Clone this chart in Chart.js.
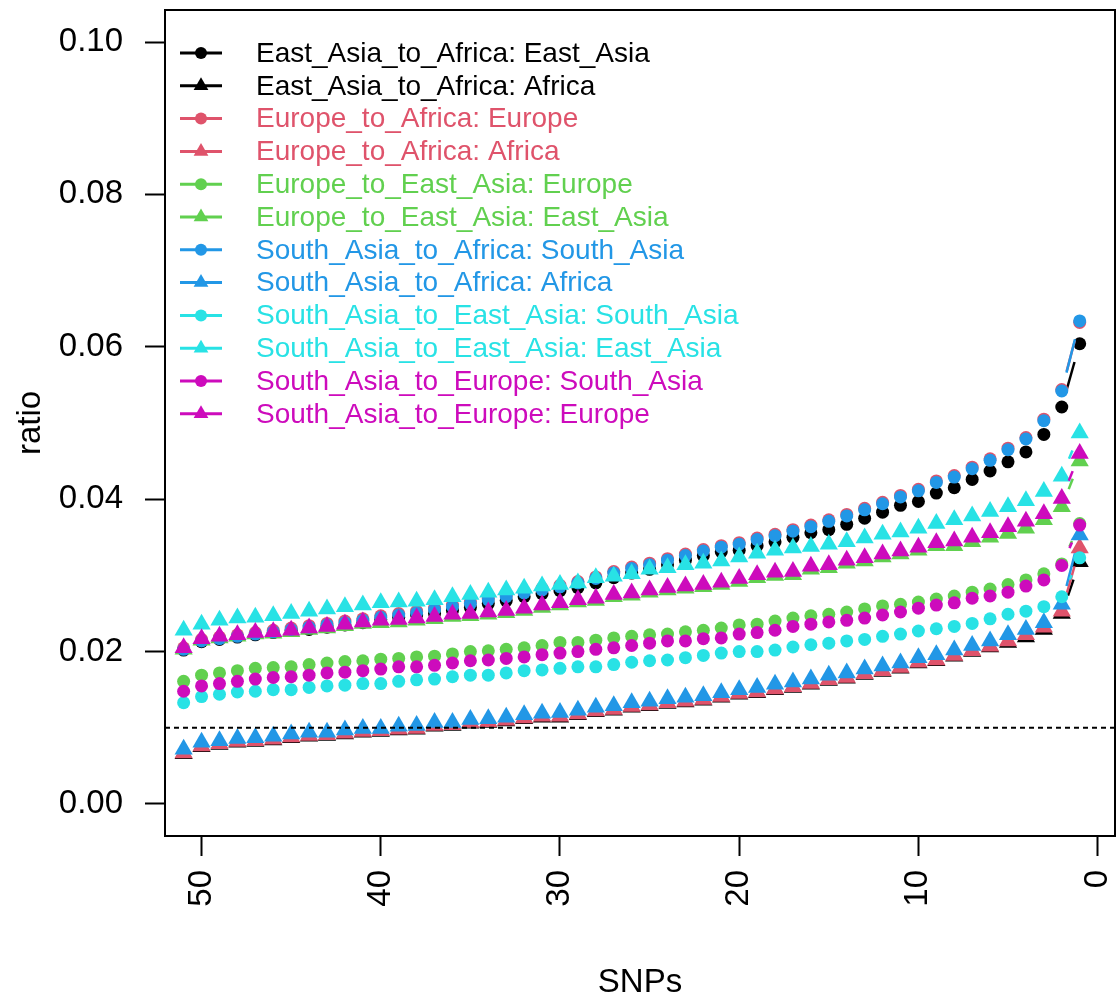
<!DOCTYPE html>
<html>
<head>
<meta charset="utf-8">
<script src="https://cdn.jsdelivr.net/npm/chart.js@4.4.1/dist/chart.umd.min.js"></script>
<style>
html,body{margin:0;padding:0;background:#fff;overflow:hidden;}
#wrap{width:1117px;height:1001px;}
canvas{display:block;}
</style>
</head>
<body>
<div id="wrap"><canvas id="c" width="1117" height="1001"></canvas></div>
<script>
// ---- data (x = number of SNPs, listed left-to-right as drawn: 51 ... 1) ----
const snps = [51,50,49,48,47,46,45,44,43,42,41,40,39,38,37,36,35,34,33,32,31,30,29,28,27,26,25,24,23,22,21,20,19,18,17,16,15,14,13,12,11,10,9,8,7,6,5,4,3,2,1];

const eaAf_EastAsia = [0.0202,0.0213,0.0216,0.0219,0.0222,0.0225,0.0228,0.0229,0.0232,0.0235,0.0238,
  0.0242,0.0245,0.0248,0.0250,0.0254,0.0258,0.0263,0.0267,0.0272,0.0276,
  0.0280,0.0284,0.0290,0.0297,0.0303,0.0308,0.0314,0.0320,0.0326,0.0331,
  0.0333,0.0339,0.0344,0.0350,0.0356,0.0360,0.0367,0.0375,0.0383,0.0392,
  0.0397,0.0408,0.0415,0.0426,0.0437,0.0449,0.0462,0.0485,0.0521,0.0604];
const eaAf_Africa = [0.0066,0.0075,0.0078,0.0081,0.0082,0.0084,0.0087,0.0089,0.0090,0.0092,0.0094,
  0.0095,0.0097,0.0098,0.0102,0.0103,0.0106,0.0107,0.0109,0.0112,0.0114,
  0.0114,0.0117,0.0121,0.0123,0.0127,0.0129,0.0132,0.0134,0.0136,0.0140,
  0.0144,0.0146,0.0150,0.0153,0.0157,0.0162,0.0165,0.0170,0.0174,0.0178,
  0.0185,0.0188,0.0194,0.0200,0.0206,0.0212,0.0219,0.0229,0.0250,0.0318];
const euAf_Europe = [0.0205,0.0216,0.0219,0.0222,0.0225,0.0228,0.0231,0.0234,0.0237,0.0240,0.0243,
  0.0247,0.0250,0.0253,0.0257,0.0261,0.0265,0.0270,0.0274,0.0279,0.0283,
  0.0287,0.0292,0.0298,0.0305,0.0311,0.0316,0.0322,0.0328,0.0334,0.0339,
  0.0343,0.0349,0.0354,0.0360,0.0366,0.0373,0.0380,0.0388,0.0396,0.0405,
  0.0413,0.0424,0.0431,0.0442,0.0453,0.0467,0.0481,0.0505,0.0544,0.0632];
const euAf_Africa = [0.0067,0.0076,0.0079,0.0082,0.0083,0.0085,0.0088,0.0090,0.0091,0.0093,0.0095,
  0.0096,0.0098,0.0099,0.0103,0.0104,0.0107,0.0108,0.0110,0.0113,0.0115,
  0.0115,0.0118,0.0122,0.0124,0.0128,0.0130,0.0133,0.0135,0.0137,0.0141,
  0.0145,0.0147,0.0151,0.0154,0.0158,0.0163,0.0166,0.0171,0.0175,0.0179,
  0.0186,0.0189,0.0195,0.0201,0.0207,0.0214,0.0222,0.0232,0.0253,0.0336];
const euEa_Europe = [0.0161,0.0169,0.0172,0.0175,0.0178,0.0179,0.0180,0.0183,0.0185,0.0187,0.0188,
  0.0190,0.0191,0.0193,0.0194,0.0197,0.0200,0.0201,0.0203,0.0205,0.0208,
  0.0212,0.0212,0.0215,0.0218,0.0220,0.0222,0.0223,0.0226,0.0228,0.0231,
  0.0235,0.0236,0.0240,0.0244,0.0247,0.0249,0.0252,0.0256,0.0260,0.0262,
  0.0265,0.0269,0.0273,0.0278,0.0282,0.0288,0.0294,0.0302,0.0315,0.0368];
const euEa_EastAsia = [0.0203,0.0215,0.0218,0.0220,0.0223,0.0224,0.0226,0.0229,0.0231,0.0234,0.0237,
  0.0238,0.0239,0.0241,0.0243,0.0246,0.0247,0.0249,0.0251,0.0254,0.0258,
  0.0261,0.0265,0.0267,0.0272,0.0274,0.0278,0.0281,0.0283,0.0285,0.0288,
  0.0292,0.0297,0.0300,0.0301,0.0308,0.0310,0.0316,0.0319,0.0324,0.0328,
  0.0333,0.0339,0.0339,0.0344,0.0350,0.0355,0.0362,0.0373,0.0390,0.0450];
const saAf_SouthAsia = [0.0203,0.0214,0.0217,0.0220,0.0223,0.0226,0.0229,0.0232,0.0235,0.0238,0.0241,
  0.0245,0.0248,0.0251,0.0255,0.0259,0.0263,0.0268,0.0272,0.0277,0.0281,
  0.0285,0.0290,0.0296,0.0303,0.0309,0.0314,0.0320,0.0326,0.0332,0.0337,
  0.0341,0.0347,0.0352,0.0358,0.0364,0.0371,0.0378,0.0386,0.0394,0.0403,
  0.0411,0.0422,0.0429,0.0440,0.0451,0.0465,0.0479,0.0503,0.0542,0.0634];
const saAf_Africa = [0.0072,0.0081,0.0083,0.0086,0.0087,0.0089,0.0092,0.0094,0.0094,0.0097,0.0099,
  0.0099,0.0102,0.0103,0.0107,0.0107,0.0111,0.0112,0.0114,0.0117,0.0119,
  0.0120,0.0123,0.0127,0.0129,0.0133,0.0135,0.0138,0.0140,0.0142,0.0146,
  0.0150,0.0153,0.0157,0.0160,0.0164,0.0169,0.0172,0.0177,0.0181,0.0185,
  0.0192,0.0196,0.0202,0.0208,0.0214,0.0222,0.0229,0.0238,0.0262,0.0353];
const saEa_SouthAsia = [0.0133,0.0141,0.0144,0.0147,0.0148,0.0150,0.0150,0.0153,0.0155,0.0156,0.0158,
  0.0158,0.0161,0.0163,0.0164,0.0167,0.0169,0.0169,0.0172,0.0175,0.0176,
  0.0178,0.0180,0.0180,0.0183,0.0186,0.0188,0.0189,0.0192,0.0195,0.0198,
  0.0200,0.0200,0.0202,0.0206,0.0209,0.0211,0.0214,0.0216,0.0220,0.0223,
  0.0227,0.0230,0.0233,0.0237,0.0243,0.0249,0.0253,0.0259,0.0272,0.0323];
const saEa_EastAsia = [0.0228,0.0236,0.0241,0.0244,0.0245,0.0247,0.0250,0.0253,0.0256,0.0259,0.0261,
  0.0264,0.0265,0.0266,0.0268,0.0272,0.0275,0.0278,0.0281,0.0283,0.0286,
  0.0288,0.0290,0.0297,0.0299,0.0302,0.0308,0.0310,0.0314,0.0316,0.0319,
  0.0324,0.0329,0.0333,0.0336,0.0338,0.0341,0.0344,0.0349,0.0354,0.0357,
  0.0362,0.0368,0.0373,0.0378,0.0384,0.0390,0.0398,0.0410,0.0430,0.0487];
const saEu_SouthAsia = [0.0148,0.0155,0.0158,0.0161,0.0164,0.0166,0.0167,0.0169,0.0172,0.0173,0.0175,
  0.0177,0.0180,0.0180,0.0182,0.0185,0.0188,0.0189,0.0191,0.0193,0.0196,
  0.0198,0.0200,0.0203,0.0205,0.0208,0.0211,0.0214,0.0214,0.0217,0.0218,
  0.0223,0.0225,0.0228,0.0233,0.0236,0.0239,0.0241,0.0244,0.0248,0.0252,
  0.0257,0.0261,0.0264,0.0270,0.0273,0.0278,0.0286,0.0294,0.0313,0.0366];
const saEu_Europe = [0.0205,0.0217,0.0220,0.0222,0.0225,0.0226,0.0228,0.0231,0.0233,0.0236,0.0239,
  0.0241,0.0242,0.0244,0.0246,0.0249,0.0250,0.0252,0.0254,0.0257,0.0261,
  0.0264,0.0268,0.0270,0.0275,0.0277,0.0281,0.0284,0.0286,0.0288,0.0291,
  0.0296,0.0301,0.0304,0.0305,0.0312,0.0314,0.0320,0.0323,0.0328,0.0332,
  0.0337,0.0343,0.0345,0.0350,0.0356,0.0364,0.0371,0.0381,0.0401,0.0460];

const labels = [
  "East_Asia_to_Africa: East_Asia","East_Asia_to_Africa: Africa",
  "Europe_to_Africa: Europe","Europe_to_Africa: Africa",
  "Europe_to_East_Asia: Europe","Europe_to_East_Asia: East_Asia",
  "South_Asia_to_Africa: South_Asia","South_Asia_to_Africa: Africa",
  "South_Asia_to_East_Asia: South_Asia","South_Asia_to_East_Asia: East_Asia",
  "South_Asia_to_Europe: South_Asia","South_Asia_to_Europe: Europe"];
const values = [eaAf_EastAsia, eaAf_Africa, euAf_Europe, euAf_Africa, euEa_Europe, euEa_EastAsia,
  saAf_SouthAsia, saAf_Africa, saEa_SouthAsia, saEa_EastAsia, saEu_SouthAsia, saEu_Europe];
const colors = ["#000000","#000000","#DF536B","#DF536B","#61D04F","#61D04F",
  "#2297E6","#2297E6","#28E2E5","#28E2E5","#CD0BBC","#CD0BBC"];
const shapes = ["circle","triangle","circle","triangle","circle","triangle",
  "circle","triangle","circle","triangle","circle","triangle"];
const xTicks = [50,40,30,20,10,0];
const yTicks = [0.00,0.02,0.04,0.06,0.08,0.10];
const refLine = 0.01;

// ---- styling ----
const FONT = "'Liberation Sans', Arial, Helvetica, sans-serif";
const TICK_SIZE = 33, LEG_SIZE = 28;
const X_MIN = -0.97, X_MAX = 52.04, Y_MIN = -0.0042, Y_MAX = 0.1042;
const R_CIRC = 6.5, R_TRI = 10.5, GAP = 19;
const LEG_R_CIRC = 6, LEG_R_TRI = 8.5;

function segLen(ctx){ return Math.hypot(ctx.p1.x - ctx.p0.x, ctx.p1.y - ctx.p0.y); }

const datasets = labels.map((lab, i) => ({
  label: lab,
  data: snps.map((x, j) => ({x: x, y: values[i][j]})),
  borderColor: colors[i],
  backgroundColor: colors[i],
  pointBackgroundColor: colors[i],
  pointBorderWidth: 0,
  pointStyle: shapes[i],
  pointRadius: shapes[i] === 'circle' ? R_CIRC : R_TRI,
  borderWidth: 2.5,
  tension: 0,
  order: 13 - (i + 1),
  segment: {
    borderColor: ctx => segLen(ctx) > 2 * GAP ? colors[i] : 'rgba(0,0,0,0)',
    borderDash: ctx => { const L = segLen(ctx); return L > 2 * GAP ? [0, GAP, L - 2 * GAP, GAP + 60] : undefined; }
  }
}));
datasets.push({
  label: 'ref',
  data: [{x: X_MAX, y: refLine}, {x: X_MIN, y: refLine}],
  borderColor: '#000',
  borderWidth: 2,
  borderDash: [5, 4],
  pointRadius: 0,
  order: 0
});

function drawMarker(ctx, shape, x, y) {
  ctx.beginPath();
  if (shape === 'circle') {
    ctx.arc(x, y, LEG_R_CIRC, 0, Math.PI * 2);
  } else {
    const r = LEG_R_TRI;
    ctx.moveTo(x, y - r);
    ctx.lineTo(x + Math.sin(2*Math.PI/3) * r, y + 0.5 * r);
    ctx.lineTo(x - Math.sin(2*Math.PI/3) * r, y + 0.5 * r);
    ctx.closePath();
  }
  ctx.fill();
}

const frameLegend = {
  id: 'frameLegend',
  afterDatasetsDraw(chart) {
    const {ctx, chartArea: a} = chart;
    ctx.save();
    ctx.strokeStyle = '#000';
    ctx.lineWidth = 2;
    ctx.setLineDash([]);
    ctx.strokeRect(a.left, a.top, a.right - a.left, a.bottom - a.top);
    const lx0 = a.left + 15, lx1 = a.left + 57, px = a.left + 36, tx = a.left + 91;
    const y0 = a.top + 43, dy = 32.8;
    ctx.font = LEG_SIZE + 'px ' + FONT;
    ctx.textAlign = 'left';
    ctx.textBaseline = 'middle';
    labels.forEach((lab, i) => {
      const y = y0 + i * dy;
      ctx.strokeStyle = colors[i];
      ctx.lineWidth = 3;
      ctx.beginPath(); ctx.moveTo(lx0, y); ctx.lineTo(lx1, y); ctx.stroke();
      ctx.fillStyle = colors[i];
      drawMarker(ctx, shapes[i], px, y);
      ctx.fillText(lab, tx, y + 1);
    });
    ctx.restore();
  }
};

new Chart(document.getElementById('c'), {
  type: 'line',
  data: { datasets },
  options: {
    responsive: false,
    devicePixelRatio: 1,
    animation: false,
    events: [],
    layout: { autoPadding: false, padding: { top: 10, right: 2, left: 0, bottom: 0 } },
    plugins: { legend: { display: false }, tooltip: { enabled: false } },
    scales: {
      x: {
        type: 'linear',
        reverse: true,
        min: X_MIN, max: X_MAX,
        afterBuildTicks: s => { s.ticks = xTicks.map(v => ({value: v})); },
        afterFit: s => { s.height = 165; s.paddingLeft = 0; s.paddingRight = 0; },
        ticks: {
          autoSkip: false, minRotation: 90, maxRotation: 90,
          padding: 14, color: '#000',
          font: { family: FONT, size: TICK_SIZE },
          callback: v => String(v)
        },
        grid: { display: true, drawOnChartArea: false, drawTicks: true, tickLength: 20, tickWidth: 2, tickColor: '#000' },
        border: { display: false },
        title: { display: true, text: 'SNPs', color: '#000', font: { family: FONT, size: TICK_SIZE }, padding: { top: 0, bottom: -2 } }
      },
      y: {
        type: 'linear',
        min: Y_MIN, max: Y_MAX,
        afterBuildTicks: s => { s.ticks = yTicks.map(v => ({value: v})); },
        afterFit: s => { s.width = 165; s.paddingTop = 0; s.paddingBottom = 0; },
        ticks: {
          padding: 22, color: '#000',
          font: { family: FONT, size: TICK_SIZE },
          callback: v => Number(v).toFixed(2)
        },
        grid: { display: true, drawOnChartArea: false, drawTicks: true, tickLength: 20, tickWidth: 2, tickColor: '#000' },
        border: { display: false },
        title: { display: true, text: 'ratio', color: '#000', font: { family: FONT, size: TICK_SIZE }, padding: { top: 11, bottom: 0 } }
      }
    }
  },
  plugins: [frameLegend]
});
</script>
</body>
</html>
